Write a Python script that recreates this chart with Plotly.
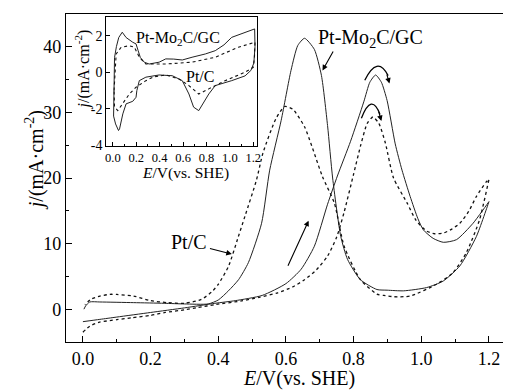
import plotly.graph_objects as go

# ---------------- data (main CV) ----------------
mo_fwd_E = [0.0, 0.05, 0.1, 0.2, 0.3, 0.39, 0.45, 0.53, 0.6, 0.645, 0.684, 0.723, 0.752, 0.791,
            0.83, 0.848, 0.865, 0.882, 0.899, 0.923, 0.943, 0.967, 0.99, 1.006, 1.035, 1.065,
            1.104, 1.153, 1.2]
mo_fwd_j = [-1.9, -1.55, -1.2, -0.5, 0.2, 0.9, 1.3, 2.1, 3.9, 6.1, 9.6, 16.0, 20.3, 25.6,
            31.6, 34.6, 35.7, 34.6, 31.8, 25.2, 21.2, 17.2, 13.8, 12.1, 10.8, 10.2,
            10.6, 13.1, 16.4]
mo_rev_E = [1.2, 1.163, 1.114, 1.065, 1.016, 0.948, 0.899, 0.869, 0.82, 0.782, 0.762, 0.738,
            0.723, 0.705, 0.684, 0.655, 0.635, 0.615, 0.586, 0.552, 0.528, 0.489, 0.46, 0.43,
            0.40, 0.37, 0.3, 0.24, 0.15, 0.05, 0.02, 0.008, 0.003]
mo_rev_j = [16.4, 11.1, 6.6, 4.3, 3.3, 2.8, 2.9, 3.0, 4.5, 7.6, 11.1, 20.0,
            28.0, 35.6, 39.6, 41.3, 40.2, 36.4, 28.8, 21.2, 13.1, 7.1, 4.5, 2.8,
            1.4, 0.8, 0.8, 0.9, 1.0, 1.1, 1.1, 0.5, 0.0]

pt_fwd_E = [0.0, 0.02, 0.047, 0.1, 0.145, 0.2, 0.243, 0.3, 0.34, 0.39, 0.469, 0.52, 0.576,
            0.62, 0.655, 0.69, 0.723, 0.75, 0.772, 0.8, 0.821, 0.84, 0.857, 0.875, 0.894,
            0.918, 0.958, 0.985, 1.016, 1.04, 1.065, 1.09, 1.114, 1.14, 1.163, 1.192, 1.2]
pt_fwd_j = [-3.5, -2.6, -2.0, -1.6, -1.3, -0.95, -0.5, -0.1, 0.26, 0.7, 1.26, 1.8, 2.5,
            3.4, 4.5, 6.0, 8.1, 11.0, 14.8, 20.6, 25.0, 28.3, 29.3, 28.3, 25.3,
            20.0, 16.2, 13.5, 11.9, 11.5, 11.6, 12.2, 13.1, 14.9, 17.2, 19.4, 19.8]
pt_rev_E = [1.2, 1.172, 1.133, 1.094, 1.045, 0.967, 0.92, 0.889, 0.869, 0.82, 0.772, 0.743,
            0.708, 0.655, 0.62, 0.596, 0.57, 0.532, 0.513, 0.479, 0.459, 0.43, 0.40, 0.38,
            0.35, 0.3, 0.25, 0.2, 0.15, 0.1, 0.08, 0.05, 0.023, 0.006]
pt_rev_j = [19.8, 13.6, 8.6, 5.6, 3.8, 2.0, 1.9, 2.1, 2.3, 4.5, 9.6, 16.2,
            20.2, 27.8, 30.5, 30.9, 29.0, 23.8, 19.7, 14.2, 11.0, 6.5, 3.8, 2.6,
            1.5, 0.9, 1.0, 1.3, 2.0, 2.25, 2.27, 2.0, 1.5, 0.7]

# ---------------- data (inset CV) ----------------
in_mo_E = [0.006, 0.014, 0.03, 0.05, 0.08, 0.113, 0.17, 0.198, 0.215, 0.235, 0.268, 0.31, 0.395,
           0.452, 0.52, 0.593, 0.677, 0.79, 0.875, 0.95, 1.016, 1.13, 1.212,
           1.215, 1.205, 1.18, 1.13, 1.016, 0.875, 0.82, 0.762, 0.734, 0.69, 0.65, 0.593,
           0.508, 0.395, 0.282, 0.226, 0.205, 0.198, 0.17, 0.113, 0.085, 0.057, 0.048,
           0.023, 0.006]
in_mo_j = [-2.4, 0.8, 1.4, 1.9, 2.19, 1.9, 1.64, 1.55, 1.2, 0.8, 0.55, 0.45, 0.55,
           0.73, 0.72, 0.67, 0.82, 1.0, 1.18, 1.5, 1.91, 2.19, 2.37,
           1.4, 0.5, 0.1, -0.2, -0.46, -0.73, -1.19, -1.82, -2.1, -1.91, -1.19, -0.46,
           -0.19, -0.15, -0.27, -0.46, -1.0, -1.37, -1.59, -1.73, -2.28, -3.1, -3.19,
           -2.83, -2.44]
in_pt_E = [0.01, 0.028, 0.071, 0.141, 0.184, 0.226, 0.282, 0.452, 0.677, 0.875, 1.073, 1.215,
           1.21, 1.2, 1.13, 0.96, 0.82, 0.734, 0.65, 0.565, 0.452, 0.35, 0.282, 0.198,
           0.141, 0.085, 0.042, 0.014, 0.01]
in_pt_j = [-1.0, 1.0, 1.37, 1.45, 1.37, 0.82, 0.45, 0.45, 0.55, 0.82, 1.37, 1.64,
           0.8, 0.27, 0.0, -0.46, -0.91, -1.19, -0.73, -0.37, -0.15, -0.25, -0.46, -0.82,
           -1.19, -1.73, -2.1, -1.9, -1.0]

main_xticks = [0.0, 0.2, 0.4, 0.6, 0.8, 1.0, 1.2]
main_yticks = [0, 10, 20, 30, 40]
inset_xticks = [0.0, 0.2, 0.4, 0.6, 0.8, 1.0, 1.2]
inset_yticks = [-4, -2, 0, 2]

FONT = "'Liberation Serif', 'Times New Roman', 'DejaVu Serif', serif"
SOLID = dict(color="#222", width=1, shape="spline", smoothing=0.6)
DOT = dict(color="#111", width=1.3, dash="dot", shape="spline", smoothing=0.6)

fig = go.Figure()
fig.add_trace(go.Scatter(x=mo_fwd_E + mo_rev_E, y=mo_fwd_j + mo_rev_j, mode="lines",
                         line=SOLID, xaxis="x", yaxis="y"))
fig.add_trace(go.Scatter(x=pt_fwd_E + pt_rev_E, y=pt_fwd_j + pt_rev_j, mode="lines",
                         line=DOT, xaxis="x", yaxis="y"))
fig.add_trace(go.Scatter(x=in_mo_E + in_mo_E[:1], y=in_mo_j + in_mo_j[:1], mode="lines",
                         line=dict(color="#222", width=1), xaxis="x2", yaxis="y2"))
fig.add_trace(go.Scatter(x=in_pt_E + in_pt_E[:1], y=in_pt_j + in_pt_j[:1], mode="lines",
                         line=dict(color="#111", width=1.1, dash="dot"), xaxis="x2", yaxis="y2"))

axcommon = dict(showline=True, linecolor="black", linewidth=1.2, ticks="inside",
                tickcolor="black", showgrid=False, zeroline=False)

fig.update_layout(
    width=507, height=390,
    margin=dict(l=66, r=0, t=14, b=48),
    paper_bgcolor="white", plot_bgcolor="white",
    showlegend=False,
    font=dict(family=FONT, color="black"),
    xaxis=dict(domain=[0, 1], range=[-0.05, 1.2415], tickvals=main_xticks,
               ticktext=[f"{v:.1f}" for v in main_xticks], ticklen=6, mirror=True,
               tickfont=dict(size=18, family=FONT),
               minor=dict(dtick=0.1, tick0=0, ticklen=3, ticks="inside", tickcolor="black"),
               **axcommon),
    yaxis=dict(domain=[0, 1], range=[-5, 45], tickvals=main_yticks, ticklen=6,
               tickfont=dict(size=18, family=FONT), mirror=False,
               minor=dict(dtick=5, tick0=0, ticklen=3, ticks="inside", tickcolor="black"),
               **axcommon),
    xaxis2=dict(domain=[0.0923, 0.4376], range=[-0.056, 1.234], anchor="y2",
                tickvals=inset_xticks, ticktext=[f"{v:.1f}" for v in inset_xticks],
                ticklen=4, mirror=True, tickfont=dict(size=12.5, family=FONT),
                minor=dict(dtick=0.1, tick0=0, ticklen=2, ticks="inside", tickcolor="black"),
                **axcommon),
    yaxis2=dict(domain=[0.5985, 0.9918], range=[-4.02, 3.04], anchor="x2",
                tickvals=inset_yticks, ticktext=[str(v) for v in inset_yticks],
                ticklen=4, mirror=True, tickfont=dict(size=14, family=FONT), **axcommon),
)

ann = []
# axis titles
ann.append(dict(xref="paper", yref="paper", x=0.534, y=-0.11, text="<i>E</i>/V(vs. SHE)",
                showarrow=False, font=dict(size=20, family=FONT), xanchor="center", yanchor="middle"))
ann.append(dict(xref="paper", yref="paper", x=-0.0703, y=0.555, text="<i>j</i>/(mA·cm<sup>-2</sup>)",
                showarrow=False, font=dict(size=20, family=FONT), textangle=-90,
                xanchor="center", yanchor="middle"))
ann.append(dict(xref="paper", yref="paper", x=0.274, y=0.514, text="<i>E</i>/V(vs. SHE)",
                showarrow=False, font=dict(size=15.5, family=FONT), xanchor="center", yanchor="middle"))
ann.append(dict(xref="paper", yref="paper", x=0.0374, y=0.832, text="<i>j</i>/(mA·cm<sup>-2</sup>)",
                showarrow=False, font=dict(size=16, family=FONT), textangle=-90,
                xanchor="center", yanchor="middle"))
# labels
ann.append(dict(xref="x", yref="y", x=0.85, y=41.3, text="Pt-Mo<sub>2</sub>C/GC",
                showarrow=False, font=dict(size=20, family=FONT), xanchor="center", yanchor="middle"))
ann.append(dict(xref="x", yref="y", x=0.314, y=10.3, text="Pt/C",
                showarrow=False, font=dict(size=20, family=FONT), xanchor="center", yanchor="middle"))
ann.append(dict(xref="x2", yref="y2", x=0.556, y=1.87, text="Pt-Mo<sub>2</sub>C/GC",
                showarrow=False, font=dict(size=16, family=FONT), xanchor="center", yanchor="middle"))
ann.append(dict(xref="x2", yref="y2", x=0.747, y=-0.26, text="Pt/C",
                showarrow=False, font=dict(size=16, family=FONT), xanchor="center", yanchor="middle"))
# arrows
arrow_style = dict(xref="x", yref="y", axref="x", ayref="y", text="", showarrow=True,
                   arrowhead=2, arrowsize=1, arrowwidth=1.1, arrowcolor="black", standoff=0)
ann.append(dict(x=0.708, y=36.4, ax=0.742, ay=39.5, **arrow_style))
ann.append(dict(x=0.44, y=8.4, ax=0.371, ay=9.3, **arrow_style))
ann.append(dict(x=0.667, y=13.5, ax=0.604, ay=6.4, **arrow_style))
ann.append(dict(x=0.906, y=34.4, ax=0.897, ay=36.0, **arrow_style))
ann.append(dict(x=0.882, y=28.7, ax=0.873, ay=30.3, **arrow_style))
fig.update_layout(annotations=ann)

fig.add_shape(type="path", xref="x", yref="y", path="M 0.833,34.9 Q 0.87,38.8 0.902,35.6",
              line=dict(color="black", width=1.3))
fig.add_shape(type="path", xref="x", yref="y", path="M 0.823,29.1 Q 0.853,33.1 0.878,29.7",
              line=dict(color="black", width=1.3))

fig.write_html("out.html")
